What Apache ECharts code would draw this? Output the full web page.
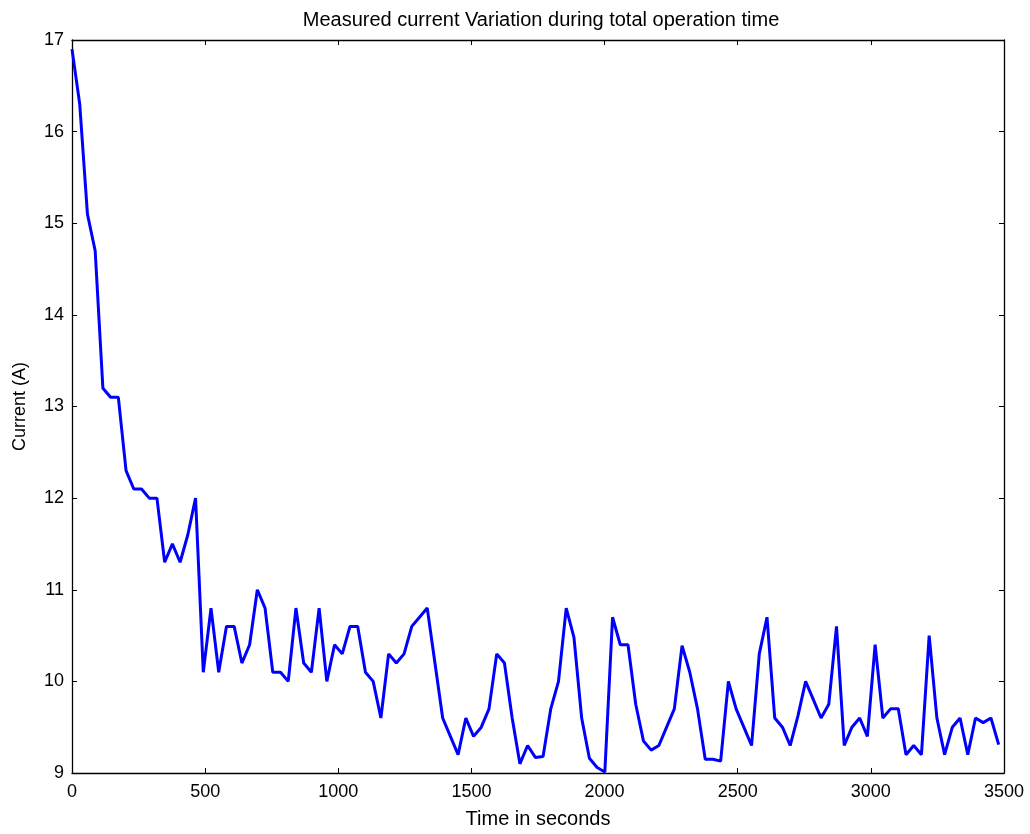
<!DOCTYPE html>
<html>
<head>
<meta charset="utf-8">
<title>Measured current Variation during total operation time</title>
<script src="https://cdn.jsdelivr.net/npm/echarts@6/dist/echarts.min.js"></script>
<style>
  html, body { margin: 0; padding: 0; background: #fff; }
  #chart { width: 1030px; height: 834px; }
</style>
</head>
<body>
<div id="chart"></div>
<script>
// Sample times (s)
const timeSec = [
  0, 29, 58, 87, 116, 145, 174, 203, 232, 261,
  290, 319, 348, 377, 406, 435, 464, 493, 522, 551,
  580, 609, 638, 667, 696, 725, 754, 783, 812, 841,
  870, 899, 928, 957, 986, 1015, 1044, 1073, 1102, 1131,
  1160, 1189, 1218, 1247, 1276, 1305, 1334, 1363, 1392, 1421,
  1450, 1479, 1508, 1537, 1566, 1595, 1624, 1653, 1682, 1711,
  1740, 1769, 1798, 1827, 1856, 1885, 1914, 1943, 1972, 2001,
  2030, 2059, 2088, 2117, 2146, 2175, 2204, 2233, 2262, 2291,
  2320, 2349, 2378, 2407, 2436, 2465, 2494, 2523, 2552, 2581,
  2610, 2639, 2668, 2697, 2726, 2755, 2784, 2813, 2842, 2871,
  2900, 2929, 2958, 2987, 3016, 3045, 3074, 3103, 3132, 3161,
  3190, 3219, 3248, 3277, 3306, 3335, 3364, 3393, 3422, 3451,
  3480
];

// Measured current (A)
const currentA = [
  16.9, 16.3, 15.1, 14.7, 13.2, 13.1, 13.1, 12.3, 12.1, 12.1,
  12.0, 12.0, 11.3, 11.5, 11.3, 11.6, 12.0, 10.1, 10.8, 10.1,
  10.6, 10.6, 10.2, 10.4, 11.0, 10.8, 10.1, 10.1, 10.0, 10.8,
  10.2, 10.1, 10.8, 10.0, 10.4, 10.3, 10.6, 10.6, 10.1, 10.0,
  9.6, 10.3, 10.2, 10.3, 10.6, 10.7, 10.8, 10.2, 9.6, 9.4,
  9.2, 9.6, 9.4, 9.5, 9.7, 10.3, 10.2, 9.6, 9.1, 9.3,
  9.17, 9.18, 9.7, 10.0, 10.8, 10.48, 9.6, 9.16, 9.06, 9.01,
  10.7, 10.4, 10.4, 9.75, 9.35, 9.25, 9.3, 9.5, 9.7, 10.39,
  10.1, 9.7, 9.15, 9.15, 9.13, 10.0, 9.7, 9.5, 9.3, 10.3,
  10.7, 9.6, 9.5, 9.3, 9.62, 10.0, 9.8, 9.6, 9.75, 10.6,
  9.3, 9.5, 9.6, 9.4, 10.4, 9.6, 9.7, 9.7, 9.2, 9.3,
  9.2, 10.5, 9.6, 9.2, 9.5, 9.6, 9.2, 9.6, 9.55, 9.6,
  9.31
];

// Axis ticks
const xTicks = [0, 500, 1000, 1500, 2000, 2500, 3000, 3500];
const yTicks = [9, 10, 11, 12, 13, 14, 15, 16, 17];

const FONT = 'Liberation Sans, Arial, sans-serif';
const points = timeSec.map((t, i) => [t, currentA[i]]);

const lineStyleAxis = { color: '#000', width: 1.3 };
const tickInside = { show: true, inside: true, length: 5, lineStyle: { color: '#000', width: 1 } };
const plainNumber = v => String(v);

const chart = echarts.init(document.getElementById('chart'), null, { renderer: 'canvas' });
chart.setOption({
  backgroundColor: '#fff',
  animation: false,
  title: {
    text: 'Measured current Variation during total operation time',
    left: 536, top: 5, textAlign: 'center',
    textStyle: { fontFamily: FONT, fontSize: 20, fontWeight: 'normal', color: '#000' }
  },
  grid: { left: 72, right: 26, top: 40, bottom: 59, containLabel: false },
  xAxis: [
    {
      type: 'value', position: 'bottom',
      min: xTicks[0], max: xTicks[xTicks.length - 1], interval: 500,
      name: 'Time in seconds', nameLocation: 'middle', nameGap: 36,
      nameTextStyle: { fontFamily: FONT, fontSize: 20, color: '#000' },
      axisLine: { show: true, onZero: false, lineStyle: lineStyleAxis },
      axisTick: tickInside,
      axisLabel: { fontFamily: FONT, fontSize: 18, color: '#000', margin: 10, formatter: plainNumber },
      splitLine: { show: false }
    },
    {
      type: 'value', position: 'top',
      min: xTicks[0], max: xTicks[xTicks.length - 1], interval: 500,
      axisLine: { show: true, onZero: false, lineStyle: lineStyleAxis },
      axisTick: tickInside,
      axisLabel: { show: false },
      splitLine: { show: false }
    }
  ],
  yAxis: [
    {
      type: 'value', position: 'left',
      min: yTicks[0], max: yTicks[yTicks.length - 1], interval: 1,
      name: 'Current (A)', nameLocation: 'middle', nameGap: 43, nameRotate: 90,
      nameTextStyle: { fontFamily: FONT, fontSize: 18, color: '#000' },
      axisLine: { show: true, onZero: false, lineStyle: lineStyleAxis },
      axisTick: tickInside,
      axisLabel: { fontFamily: FONT, fontSize: 18, color: '#000', margin: 8, formatter: plainNumber },
      splitLine: { show: false }
    },
    {
      type: 'value', position: 'right',
      min: yTicks[0], max: yTicks[yTicks.length - 1], interval: 1,
      axisLine: { show: true, onZero: false, lineStyle: lineStyleAxis },
      axisTick: tickInside,
      axisLabel: { show: false },
      splitLine: { show: false }
    }
  ],
  series: [
    {
      type: 'line',
      xAxisIndex: 0, yAxisIndex: 0,
      data: points,
      showSymbol: false,
      symbol: 'none',
      lineStyle: { color: '#0000ff', width: 3 },
      clip: true
    }
  ]
});
</script>
</body>
</html>
